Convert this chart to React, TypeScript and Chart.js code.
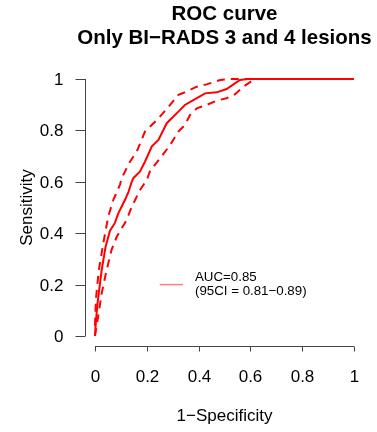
import React, { useEffect, useRef } from 'react';
import { Chart, registerables } from 'chart.js';

Chart.register(...registerables);

const FONT = '"Liberation Sans", Arial, Helvetica, sans-serif';

const titleLines = ['ROC curve', 'Only BI\u2212RADS 3 and 4 lesions'];
const xTitle = '1\u2212Specificity';
const yTitle = 'Sensitivity';
const xTicks = [0, 0.2, 0.4, 0.6, 0.8, 1];
const xTickLabels = ['0', '0.2', '0.4', '0.6', '0.8', '1'];
const yTicks = [0, 0.2, 0.4, 0.6, 0.8, 1];
const yTickLabels = ['0', '0.2', '0.4', '0.6', '0.8', '1'];
const legendLines = ['AUC=0.85', '(95CI = 0.81\u22120.89)'];

// ROC curve (1-specificity, sensitivity)
const rocFpr = [0, 0.004, 0.01, 0.026, 0.041, 0.058, 0.077, 0.09, 0.116, 0.129, 0.142, 0.148, 0.174, 0.193, 0.219, 0.245, 0.277, 0.302, 0.322, 0.347, 0.38, 0.425, 0.47, 0.508, 0.54, 0.56, 0.59, 1];
const rocTpr = [0, 0.062, 0.128, 0.257, 0.347, 0.41, 0.44, 0.477, 0.53, 0.56, 0.6, 0.614, 0.64, 0.678, 0.737, 0.763, 0.828, 0.853, 0.873, 0.899, 0.918, 0.944, 0.948, 0.961, 0.983, 0.996, 1, 1];

// Upper confidence band
const upperFpr = [0, 0.004, 0.015, 0.032, 0.051, 0.071, 0.097, 0.103, 0.135, 0.161, 0.193, 0.245, 0.29, 0.322, 0.354, 0.393, 0.431, 0.483, 0.52, 1];
const upperTpr = [0.04, 0.148, 0.257, 0.36, 0.464, 0.53, 0.59, 0.614, 0.678, 0.717, 0.795, 0.847, 0.899, 0.938, 0.951, 0.97, 0.979, 0.996, 1, 1];

// Lower confidence band
const lowerFpr = [0, 0.01, 0.026, 0.045, 0.064, 0.084, 0.103, 0.122, 0.142, 0.174, 0.2, 0.212, 0.251, 0.29, 0.322, 0.347, 0.367, 0.393, 0.431, 0.47, 0.508, 0.54, 0.573, 0.605, 0.618, 1];
const lowerTpr = [0, 0.062, 0.166, 0.257, 0.335, 0.386, 0.419, 0.451, 0.503, 0.568, 0.607, 0.64, 0.691, 0.743, 0.795, 0.821, 0.86, 0.886, 0.899, 0.916, 0.925, 0.94, 0.97, 0.992, 1, 1];

// legend anchor in data coordinates
const legendLineX = [0.25, 0.34];
const legendLineY = 0.2;
const legendTextX = 0.386;

const toPoints = (xs: number[], ys: number[]) => xs.map((x, i) => ({ x, y: ys[i] }));

const decorPlugin = {
  id: 'rDecor',
  afterDraw(chart: any) {
    const ctx = chart.ctx as CanvasRenderingContext2D;
    const xs = chart.scales.x;
    const ys = chart.scales.y;
    const area = chart.chartArea;
    ctx.save();
    ctx.strokeStyle = '#444';
    ctx.fillStyle = '#000';
    ctx.lineWidth = 1;

    // y axis
    const ax = Math.round(area.left) + 0.5;
    ctx.beginPath();
    ctx.moveTo(ax, ys.getPixelForValue(0));
    ctx.lineTo(ax, ys.getPixelForValue(1));
    ctx.stroke();
    ctx.font = `17px ${FONT}`;
    ctx.textAlign = 'right';
    ctx.textBaseline = 'middle';
    yTicks.forEach((v, i) => {
      const py = Math.round(ys.getPixelForValue(v)) + 0.5;
      ctx.beginPath();
      ctx.moveTo(ax - 10, py);
      ctx.lineTo(ax, py);
      ctx.stroke();
      ctx.fillText(yTickLabels[i], ax - 22, py + 1);
    });

    // x axis
    const ay = Math.round(area.bottom) + 0.5;
    ctx.beginPath();
    ctx.moveTo(xs.getPixelForValue(0), ay);
    ctx.lineTo(xs.getPixelForValue(1), ay);
    ctx.stroke();
    ctx.textAlign = 'center';
    xTicks.forEach((v, i) => {
      const px = Math.round(xs.getPixelForValue(v)) + 0.5;
      ctx.beginPath();
      ctx.moveTo(px, ay);
      ctx.lineTo(px, ay + 5);
      ctx.stroke();
      ctx.fillText(xTickLabels[i], px, ay + 31);
    });

    // axis titles
    const cx = (xs.getPixelForValue(0) + xs.getPixelForValue(1)) / 2;
    ctx.fillText(xTitle, cx, 416);
    ctx.save();
    ctx.translate(27, (ys.getPixelForValue(0) + ys.getPixelForValue(1)) / 2);
    ctx.rotate(-Math.PI / 2);
    ctx.fillText(yTitle, 0, 0);
    ctx.restore();

    // main title
    ctx.font = `bold 20.5px ${FONT}`;
    ctx.textBaseline = 'alphabetic';
    const tx = (area.left + area.right) / 2;
    ctx.fillText(titleLines[0], tx, 20);
    ctx.fillText(titleLines[1], tx, 44);

    // legend
    const ly = ys.getPixelForValue(legendLineY);
    ctx.strokeStyle = 'rgba(255,0,0,0.5)';
    ctx.lineWidth = 1.5;
    ctx.beginPath();
    ctx.moveTo(xs.getPixelForValue(legendLineX[0]), ly);
    ctx.lineTo(xs.getPixelForValue(legendLineX[1]), ly);
    ctx.stroke();
    ctx.font = `13.3px ${FONT}`;
    ctx.textAlign = 'left';
    ctx.textBaseline = 'middle';
    const lx = xs.getPixelForValue(legendTextX);
    ctx.fillText(legendLines[0], lx, ly - 7);
    ctx.fillText(legendLines[1], lx, ly + 7);
    ctx.restore();
  },
};

export default function App() {
  const ref = useRef<HTMLCanvasElement | null>(null);
  useEffect(() => {
    if (!ref.current) return;
    const chart = new Chart(ref.current, {
      type: 'line',
      data: {
        datasets: [
          {
            data: toPoints(rocFpr, rocTpr),
            borderColor: '#ff0000',
            borderWidth: 2,
            pointRadius: 0,
            tension: 0,
            fill: false,
          },
          {
            data: toPoints(upperFpr, upperTpr),
            borderColor: '#ff0000',
            borderWidth: 2,
            borderDash: [8, 6],
            pointRadius: 0,
            tension: 0,
            fill: false,
          },
          {
            data: toPoints(lowerFpr, lowerTpr),
            borderColor: '#ff0000',
            borderWidth: 2,
            borderDash: [8, 6],
            pointRadius: 0,
            tension: 0,
            fill: false,
          },
        ],
      },
      options: {
        responsive: false,
        animation: false,
        parsing: true,
        layout: { padding: { left: 84.6, right: 12.6, top: 68.7, bottom: 85.7 } },
        scales: {
          x: { type: 'linear', min: -0.04, max: 1.04, display: false },
          y: { type: 'linear', min: -0.04, max: 1.04, display: false },
        },
        plugins: {
          legend: { display: false },
          tooltip: { enabled: false },
          title: { display: false },
        },
      },
      plugins: [decorPlugin],
    });
    return () => chart.destroy();
  }, []);
  return (
    <div style={{ position: 'absolute', left: 0, top: 0, width: 377, height: 432, background: '#fff' }}>
      <canvas ref={ref} width={377} height={432} style={{ display: 'block' }} />
    </div>
  );
}
